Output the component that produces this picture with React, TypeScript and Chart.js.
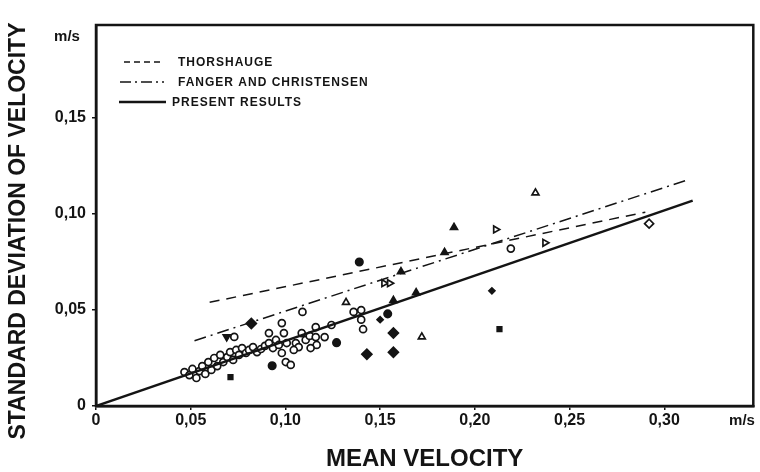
import React, { useEffect, useRef } from "react";
import { Chart, registerables } from "chart.js";

Chart.register(...registerables);

// ---- Axis ticks ----
const xTicks = [0, 0.05, 0.1, 0.15, 0.2, 0.25, 0.3];
const yTicks = [0, 0.05, 0.1, 0.15];

// ---- Fitted lines [mean velocity, std deviation] ----
const presentResults: [number, number][] = [[0, 0], [0.315, 0.107]];
const thorshauge: [number, number][] = [[0.06, 0.054], [0.29, 0.101]];
const fangerChristensen: [number, number][] = [[0.052, 0.034], [0.313, 0.118]];

// ---- Measured points [mean velocity, std deviation] ----
const openCircles: [number, number][] = [
  [0.0467, 0.0177], [0.0493, 0.0161], [0.0509, 0.0193], [0.053, 0.0146], [0.0546, 0.0182],
  [0.0561, 0.0208], [0.0577, 0.0167], [0.0593, 0.0229], [0.0609, 0.0188], [0.0624, 0.025],
  [0.064, 0.0208], [0.0656, 0.0266], [0.0672, 0.0229], [0.0693, 0.0255], [0.0708, 0.0281],
  [0.0724, 0.024], [0.074, 0.0292], [0.0755, 0.0266], [0.0771, 0.0302], [0.0792, 0.0276],
  [0.0808, 0.0292], [0.0829, 0.0307], [0.085, 0.0281], [0.0871, 0.0297], [0.0892, 0.0313],
  [0.0913, 0.0328], [0.0934, 0.0302], [0.095, 0.0344], [0.0913, 0.038], [0.0981, 0.0432],
  [0.0992, 0.038], [0.0981, 0.0276], [0.1002, 0.0229], [0.1028, 0.0214], [0.1007, 0.0328],
  [0.0965, 0.0318], [0.1055, 0.0328], [0.107, 0.0307], [0.1044, 0.0292], [0.1086, 0.038],
  [0.1107, 0.0344], [0.1128, 0.0365], [0.116, 0.0411], [0.116, 0.0359], [0.1165, 0.0318],
  [0.1133, 0.0302], [0.1207, 0.0359], [0.1243, 0.0422], [0.073, 0.036], [0.109, 0.049],
  [0.219, 0.082], [0.136, 0.049], [0.14, 0.05], [0.14, 0.045], [0.141, 0.04],
];
const filledCircles: [number, number][] = [
  [0.139, 0.075], [0.154, 0.048], [0.127, 0.033], [0.093, 0.021],
];
const filledDiamonds: [number, number][] = [
  [0.143, 0.027], [0.157, 0.038], [0.157, 0.028], [0.082, 0.043],
];
const smallDiamonds: [number, number][] = [[0.15, 0.045], [0.209, 0.06]];
const filledSquares: [number, number][] = [[0.071, 0.015], [0.213, 0.04]];
const filledTriangles: [number, number][] = [
  [0.189, 0.093], [0.161, 0.07], [0.184, 0.08], [0.157, 0.055], [0.169, 0.059],
];
const downTriangles: [number, number][] = [[0.069, 0.036]];
const openTriangles: [number, number][] = [[0.172, 0.036], [0.132, 0.054], [0.232, 0.111]];
const rightTriangles: [number, number][] = [
  [0.211, 0.092], [0.237, 0.085], [0.152, 0.064], [0.155, 0.064],
];
const openDiamonds: [number, number][] = [[0.292, 0.095]];

const INK = "#141414";
const FONT = '"Liberation Sans", Arial, sans-serif';

const toXY = (a: [number, number][]) => a.map(([x, y]) => ({ x, y }));
const fmt = (v: number) => (v === 0 ? "0" : v.toFixed(2).replace(".", ","));

function pts(label: string, data: [number, number][], style: any, filled: boolean, radius: number, rotation = 0) {
  return {
    type: "scatter" as const,
    label,
    data: toXY(data),
    pointStyle: style,
    pointRadius: radius,
    pointRotation: rotation,
    pointBorderWidth: 1.7,
    borderColor: INK,
    backgroundColor: filled ? INK : "#ffffff",
    showLine: false,
  };
}

function line(label: string, data: [number, number][], dash: number[], width: number) {
  return {
    type: "line" as const,
    label,
    data: toXY(data),
    borderColor: INK,
    borderWidth: width,
    borderDash: dash,
    pointRadius: 0,
    fill: false,
    tension: 0,
  };
}

const overlayPlugin = {
  id: "overlay",
  afterDraw(chart: any) {
    const { ctx, chartArea } = chart;
    ctx.save();
    // frame
    ctx.strokeStyle = INK;
    ctx.lineWidth = 2.5;
    ctx.setLineDash([]);
    ctx.strokeRect(chartArea.left, chartArea.top, chartArea.right - chartArea.left, chartArea.bottom - chartArea.top);

    // y-axis title
    ctx.fillStyle = INK;
    ctx.save();
    ctx.translate(19, 231);
    ctx.rotate(-Math.PI / 2);
    ctx.font = `bold 23px ${FONT}`;
    ctx.textAlign = "center";
    ctx.textBaseline = "middle";
    ctx.fillText("STANDARD DEVIATION OF VELOCITY", 0, 0);
    ctx.restore();

    // unit labels
    ctx.font = `bold 15px ${FONT}`;
    ctx.textAlign = "center";
    ctx.textBaseline = "middle";
    ctx.fillText("m/s", 67, 37);
    ctx.fillText("m/s", 742, 421);

    // legend
    const rows = [
      { y: 62, x0: 124, x1: 160, dash: [6, 4], w: 1.3, tx: 178, text: "THORSHAUGE" },
      { y: 82, x0: 120, x1: 164, dash: [11, 4, 2, 4], w: 1.5, tx: 178, text: "FANGER AND CHRISTENSEN" },
      { y: 102, x0: 119, x1: 166, dash: [], w: 2.5, tx: 172, text: "PRESENT RESULTS" },
    ];
    ctx.textAlign = "left";
    ctx.font = `bold 12px ${FONT}`;
    (ctx as any).letterSpacing = "1px";
    for (const r of rows) {
      ctx.beginPath();
      ctx.setLineDash(r.dash);
      ctx.lineWidth = r.w;
      ctx.moveTo(r.x0, r.y);
      ctx.lineTo(r.x1, r.y);
      ctx.stroke();
      ctx.setLineDash([]);
      ctx.fillText(r.text, r.tx, r.y + 1);
    }
    ctx.restore();
  },
};

export default function App() {
  const ref = useRef<HTMLCanvasElement>(null);

  useEffect(() => {
    if (!ref.current) return;
    const chart = new Chart(ref.current, {
      type: "scatter",
      data: {
        datasets: [
          line("PRESENT RESULTS", presentResults, [], 2.5),
          line("THORSHAUGE", thorshauge, [10, 7], 1.5),
          line("FANGER AND CHRISTENSEN", fangerChristensen, [12, 5, 2, 5], 1.5),
          pts("open circles", openCircles, "circle", false, 3.5),
          pts("filled circles", filledCircles, "circle", true, 3.7),
          pts("filled diamonds", filledDiamonds, "rectRot", true, 5),
          pts("small diamonds", smallDiamonds, "rectRot", true, 3),
          pts("filled squares", filledSquares, "rect", true, 3.2),
          pts("filled triangles", filledTriangles, "triangle", true, 4),
          pts("down triangles", downTriangles, "triangle", true, 4, 180),
          pts("open triangles", openTriangles, "triangle", false, 4),
          pts("right triangles", rightTriangles, "triangle", false, 4, 90),
          pts("open diamonds", openDiamonds, "rectRot", false, 4.5),
        ] as any,
      },
      options: {
        animation: false,
        responsive: true,
        maintainAspectRatio: false,
        layout: { padding: { top: 25, right: 3, left: 0, bottom: 0 } },
        plugins: { legend: { display: false }, tooltip: { enabled: false } },
        scales: {
          x: {
            type: "linear",
            min: 0,
            max: 0.347,
            afterBuildTicks: (s: any) => { s.ticks = xTicks.map((v) => ({ value: v })); },
            afterFit: (s: any) => { s.height = 66; },
            ticks: {
              callback: (v: any) => fmt(Number(v)),
              font: { family: FONT, size: 16, weight: "bold" },
              color: INK,
              padding: 1,
              maxRotation: 0,
              autoSkip: false,
            },
            grid: { display: true, drawOnChartArea: false, drawTicks: true, tickLength: 4, color: INK, lineWidth: 1.5 },
            border: { display: true, color: INK, width: 2.5 },
            title: {
              display: true,
              text: "MEAN VELOCITY",
              font: { family: FONT, size: 24, weight: "bold" },
              color: INK,
              padding: { top: 0, bottom: -2 },
            },
          },
          y: {
            type: "linear",
            min: 0,
            max: 0.1985,
            afterBuildTicks: (s: any) => { s.ticks = yTicks.map((v) => ({ value: v })); },
            afterFit: (s: any) => { s.width = 96; },
            ticks: {
              callback: (v: any) => fmt(Number(v)),
              font: { family: FONT, size: 16, weight: "bold" },
              color: INK,
              padding: 6,
            },
            grid: { display: true, drawOnChartArea: false, drawTicks: true, tickLength: 4, color: INK, lineWidth: 1.5 },
            border: { display: true, color: INK, width: 2.5 },
            title: { display: false },
          },
        },
      },
      plugins: [overlayPlugin],
    } as any);
    return () => chart.destroy();
  }, []);

  return (
    <div style={{ position: "absolute", left: 0, top: 0, width: 760, height: 472, background: "#fff" }}>
      <canvas ref={ref} />
    </div>
  );
}
